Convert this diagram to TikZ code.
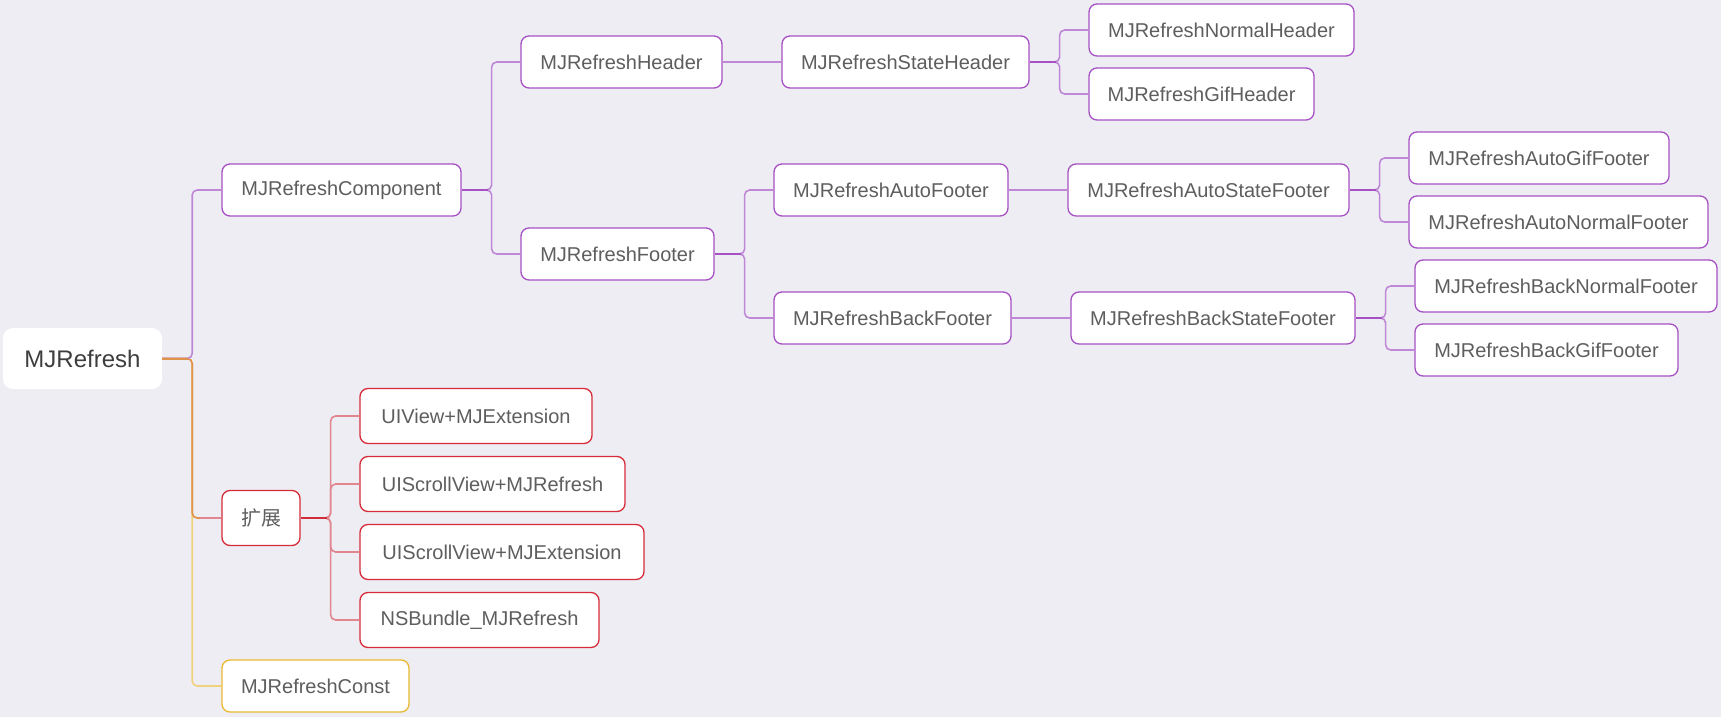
\documentclass[tikz,border=0pt]{standalone}
\usepackage{fontspec}
\setmainfont{Liberation Sans}
\newfontfamily\cjk{Noto Sans CJK SC}
\definecolor{bgc}{HTML}{EEEDF3}
\definecolor{txtc}{HTML}{5E5E5E}
\definecolor{roottxt}{HTML}{3E3E3E}
\definecolor{pborder}{HTML}{A650C4}
\definecolor{pcon}{HTML}{BF88D6}
\definecolor{pstub}{HTML}{A652C2}
\definecolor{rborder}{HTML}{D62B38}
\definecolor{rcon}{HTML}{E0868E}
\definecolor{rstub}{HTML}{D02D3B}
\definecolor{yborder}{HTML}{EAB931}
\definecolor{ycon}{HTML}{F0D27C}
\definecolor{ocon}{HTML}{E0914A}
\begin{document}
\begin{tikzpicture}[x=1pt,y=-1pt,
  box/.style={rectangle, rounded corners=8pt, fill=white, line width=1.3pt,
    inner sep=0pt, minimum height=52pt, text=txtc,
    font=\fontsize{20}{24}\selectfont},
  pbox/.style={box, draw=pborder},
  rbox/.style={box, draw=rborder, minimum height=55pt},
  ybox/.style={box, draw=yborder},
  rootbox/.style={rectangle, rounded corners=10pt, fill=white, inner sep=0pt,
    minimum width=159pt, minimum height=61pt, text=roottxt,
    font=\fontsize{24}{28}\selectfont},
  conbase/.style={line width=1.6pt, rounded corners=5pt},
  pconn/.style={conbase, draw=pcon},
  rconn/.style={conbase, draw=rcon},
  yconn/.style={conbase, draw=ycon},
  oconn/.style={conbase, draw=ocon},
  pstubline/.style={line width=2pt, draw=pstub},
  rstubline/.style={line width=2pt, draw=rstub},
  ostubline/.style={line width=2pt, draw=ocon}
]
\useasboundingbox (0,0) rectangle (1721,717);
\fill[bgc] (0,0) rectangle (1721,717);

% nodes
\node[rootbox] (root) at (82.5,358.5) {MJRefresh};
\node[pbox, minimum width=239pt] (comp) at (341.5,190) {MJRefreshComponent};
\node[pbox, minimum width=201pt] (hdr) at (621.5,62) {MJRefreshHeader};
\node[pbox, minimum width=193pt] (ftr) at (617.5,254) {MJRefreshFooter};
\node[pbox, minimum width=247pt] (shdr) at (905.5,62) {MJRefreshStateHeader};
\node[pbox, minimum width=265pt] (nhdr) at (1221.5,30) {MJRefreshNormalHeader};
\node[pbox, minimum width=225pt] (ghdr) at (1201.5,94) {MJRefreshGifHeader};
\node[pbox, minimum width=234pt] (aftr) at (891,190) {MJRefreshAutoFooter};
\node[pbox, minimum width=237pt] (bftr) at (892.5,318) {MJRefreshBackFooter};
\node[pbox, minimum width=281pt] (asftr) at (1208.5,190) {MJRefreshAutoStateFooter};
\node[pbox, minimum width=284pt] (bsftr) at (1213,318) {MJRefreshBackStateFooter};
\node[pbox, minimum width=260pt] (agftr) at (1539,158) {MJRefreshAutoGifFooter};
\node[pbox, minimum width=299pt] (anftr) at (1558.5,222) {MJRefreshAutoNormalFooter};
\node[pbox, minimum width=302pt] (bnftr) at (1566,286) {MJRefreshBackNormalFooter};
\node[pbox, minimum width=263pt] (bgftr) at (1546.5,350) {MJRefreshBackGifFooter};
\node[rbox, minimum width=78pt] (ext) at (261,518) {\cjk 扩展};
\node[rbox, minimum width=232pt] (uiv) at (476,416) {UIView+MJExtension};
\node[rbox, minimum width=265pt] (usr) at (492.5,484) {UIScrollView+MJRefresh};
\node[rbox, minimum width=284pt] (use) at (502,552) {UIScrollView+MJExtension};
\node[rbox, minimum width=239pt] (nsb) at (479.5,620) {NSBundle\_MJRefresh};
\node[ybox, minimum width=187pt] (cst) at (315.5,686) {MJRefreshConst};

% connectors from root
\draw[yconn] (root.east) -- ++(30,0) |- (cst.west);
\draw[oconn] (root.east) -- ++(30,0) |- ([xshift=-20pt]ext.west);
\draw[rconn] ([xshift=-21pt]ext.west) -- (ext.west);
\draw[pconn] (root.east) -- ++(30,0) |- (comp.west);
\draw[ostubline] (root.east) -- ++(26,0);

% MJRefreshComponent subtree
\draw[pconn] (comp.east) -- ++(30,0) |- (hdr.west);
\draw[pconn] (comp.east) -- ++(30,0) |- (ftr.west);
\draw[pstubline] (comp.east) -- ++(26,0);
\draw[pconn] (hdr.east) -- (shdr.west);
\draw[pconn] (shdr.east) -- ++(30,0) |- (nhdr.west);
\draw[pconn] (shdr.east) -- ++(30,0) |- (ghdr.west);
\draw[pstubline] (shdr.east) -- ++(26,0);
\draw[pconn] (ftr.east) -- ++(30,0) |- (aftr.west);
\draw[pconn] (ftr.east) -- ++(30,0) |- (bftr.west);
\draw[pstubline] (ftr.east) -- ++(26,0);
\draw[pconn] (aftr.east) -- (asftr.west);
\draw[pconn] (bftr.east) -- (bsftr.west);
\draw[pconn] (asftr.east) -- ++(30,0) |- (agftr.west);
\draw[pconn] (asftr.east) -- ++(30,0) |- (anftr.west);
\draw[pstubline] (asftr.east) -- ++(26,0);
\draw[pconn] (bsftr.east) -- ++(30,0) |- (bnftr.west);
\draw[pconn] (bsftr.east) -- ++(30,0) |- (bgftr.west);
\draw[pstubline] (bsftr.east) -- ++(26,0);

% extension subtree
\draw[rconn] (ext.east) -- ++(30,0) |- (uiv.west);
\draw[rconn] (ext.east) -- ++(30,0) |- (usr.west);
\draw[rconn] (ext.east) -- ++(30,0) |- (use.west);
\draw[rconn] (ext.east) -- ++(30,0) |- (nsb.west);
\draw[rstubline] (ext.east) -- ++(26,0);
\end{tikzpicture}
\end{document}
